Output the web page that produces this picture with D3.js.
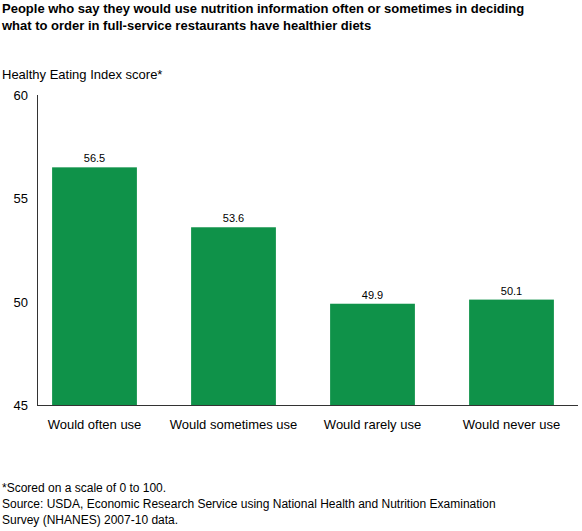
<!DOCTYPE html><html><head><script src="https://d3js.org/d3.v7.min.js"></script>
<style>body{margin:0;font-family:Arial,"Liberation Sans",sans-serif}</style></head><body>
<script>
const categories=["Would often use","Would sometimes use","Would rarely use","Would never use"];
const values=[56.5,53.6,49.9,50.1];
const yTicks=[45,50,55,60];
const W=582,H=531;
const svg=d3.select("body").append("svg").attr("width",W).attr("height",H).style("font-family","Arial, 'Liberation Sans', sans-serif");
svg.append("text").attr("x",2).attr("y",13).attr("font-size",13).attr("font-weight","bold").text("People who say they would use nutrition information often or sometimes in deciding");
svg.append("text").attr("x",2).attr("y",30).attr("font-size",13).attr("font-weight","bold").text("what to order in full-service restaurants have healthier diets");
svg.append("text").attr("x",2).attr("y",79).attr("font-size",13).text("Healthy Eating Index score*");
const y=d3.scaleLinear().domain([45,60]).range([405,95]);
const x=d3.scaleBand().domain(categories).range([25,581]).paddingInner(0.39).paddingOuter(0.195);
svg.append("line").attr("x1",37.5).attr("x2",37.5).attr("y1",95).attr("y2",405).attr("stroke","#333");
svg.append("line").attr("x1",37).attr("x2",578).attr("y1",405.5).attr("y2",405.5).attr("stroke","#333");
yTicks.forEach(t=>{svg.append("text").attr("x",28).attr("y",y(t)+5).attr("text-anchor","end").attr("font-size",13).text(t);});
categories.forEach((c,i)=>{
 svg.append("rect").attr("x",x(c)).attr("width",x.bandwidth()).attr("y",y(values[i])).attr("height",405-y(values[i])).attr("fill","#0f9249");
 svg.append("text").attr("x",x(c)+x.bandwidth()/2).attr("y",y(values[i])-5).attr("text-anchor","middle").attr("font-size",11).text(values[i].toFixed(1));
 svg.append("text").attr("x",x(c)+x.bandwidth()/2).attr("y",429).attr("text-anchor","middle").attr("font-size",13).text(c);
});
["*Scored on a scale of 0 to 100.","Source: USDA, Economic Research Service using National Health and Nutrition Examination","Survey (NHANES) 2007-10 data."].forEach((s,i)=>svg.append("text").attr("x",2).attr("y",492+i*16).attr("font-size",12).text(s));
</script></body></html>
